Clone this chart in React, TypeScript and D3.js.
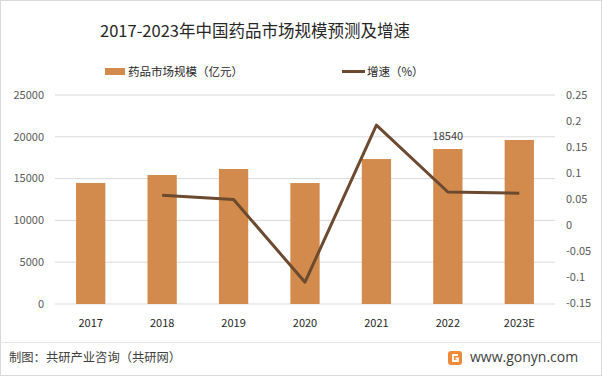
import React from "react";
import * as d3 from "d3";

const categories = ["2017", "2018", "2019", "2020", "2021", "2022", "2023E"];
const marketSize = [14480, 15430, 16150, 14470, 17340, 18540, 19620];
const growth: (number | null)[] = [null, 0.057, 0.049, -0.11, 0.192, 0.0635, 0.061];
const leftTicks = [0, 5000, 10000, 15000, 20000, 25000];
const rightTicks = [-0.15, -0.1, -0.05, 0, 0.05, 0.1, 0.15, 0.2, 0.25];
const rightTickLabels = ["-0.15", "-0.1", "-0.05", "0", "0.05", "0.1", "0.15", "0.2", "0.25"];
const labeledIndex = 5;

const W = 602;
const H = 376;
const plot = { left: 55, right: 555, top: 95, bottom: 304 };
const FONT = "'Noto Sans CJK SC', 'Noto Sans', sans-serif";
const BAR = "#D38B4D";
const LINE = "#6B4A2F";

export default function App() {
  const x = d3
    .scaleBand<string>()
    .domain(categories)
    .range([plot.left, plot.right])
    .paddingInner(0.59)
    .paddingOuter(0.295);
  const yL = d3.scaleLinear().domain([0, 25000]).range([plot.bottom, plot.top]);
  const yR = d3.scaleLinear().domain([-0.15, 0.25]).range([plot.bottom - 1, plot.top]);

  const pts = categories
    .map((c, i) => ({ c, v: growth[i] }))
    .filter((d) => d.v !== null) as { c: string; v: number }[];
  const line = d3
    .line<{ c: string; v: number }>()
    .x((d) => (x(d.c) as number) + x.bandwidth() / 2)
    .y((d) => yR(d.v));

  return (
    <svg
      width={W}
      height={H}
      style={{ position: "fixed", left: 0, top: 0, background: "#fff" }}
      fontFamily={FONT}
    >
      <rect x={0.5} y={0.5} width={W - 1} height={H - 1} fill="#fff" stroke="#D9D9D9" />
      <text x={255} y={37} textAnchor="middle" fontSize={16.5} fill="#262626">
        2017-2023年中国药品市场规模预测及增速
      </text>

      {/* legend */}
      <rect x={105} y={68} width={20} height={7} fill={BAR} />
      <text x={128} y={76} fontSize={11.5} fill="#262626">
        药品市场规模（亿元）
      </text>
      <line x1={342} x2={365} y1={71.5} y2={71.5} stroke={LINE} strokeWidth={3} />
      <text x={367} y={76} fontSize={11.5} fill="#262626">
        增速（%）
      </text>

      {/* gridlines */}
      {leftTicks.map((t) => (
        <line
          key={"g" + t}
          x1={plot.left}
          x2={plot.right}
          y1={yL(t)}
          y2={yL(t)}
          stroke="#D9D9D9"
          strokeWidth={1}
        />
      ))}
      {leftTicks.map((t) => (
        <text
          key={"l" + t}
          x={44}
          y={yL(t)}
          dy="0.35em"
          textAnchor="end"
          fontSize={11}
          fill="#595959"
        >
          {t}
        </text>
      ))}
      {rightTicks.map((t, i) => (
        <text key={"r" + t} x={566} y={yR(t)} dy="0.35em" fontSize={11} fill="#595959">
          {rightTickLabels[i]}
        </text>
      ))}

      {/* bars */}
      {categories.map((c, i) => (
        <rect
          key={"b" + c}
          x={x(c)}
          y={yL(marketSize[i])}
          width={x.bandwidth()}
          height={yL(0) - yL(marketSize[i])}
          fill={BAR}
        />
      ))}
      <text
        x={(x(categories[labeledIndex]) as number) + x.bandwidth() / 2}
        y={yL(marketSize[labeledIndex]) - 9}
        textAnchor="middle"
        fontSize={11}
        fill="#404040"
      >
        {marketSize[labeledIndex]}
      </text>

      {/* line */}
      <path d={line(pts) || ""} fill="none" stroke={LINE} strokeWidth={3} strokeLinejoin="round" />

      {/* x labels */}
      {categories.map((c) => (
        <text
          key={"x" + c}
          x={(x(c) as number) + x.bandwidth() / 2}
          y={327}
          textAnchor="middle"
          fontSize={11}
          fill="#262626"
        >
          {c}
        </text>
      ))}

      {/* footer */}
      <line x1={0} x2={W} y1={342.5} y2={342.5} stroke="#E6E6E6" />
      <text x={9} y={362} fontSize={12.3} fill="#404040">
        制图：共研产业咨询（共研网）
      </text>
      <g transform="translate(448,351)">
        <rect x={0} y={0} width={14} height={14} rx={3} fill="#F08A3A" />
        <path d="M10 4 H5 V10 H10 V7.5 H7.5" fill="none" stroke="#fff" strokeWidth={1.8} />
      </g>
      <text x={470} y={362} fontSize={14} fill="#404040" fontFamily="'Open Sans', sans-serif">
        www.gonyn.com
      </text>
    </svg>
  );
}
